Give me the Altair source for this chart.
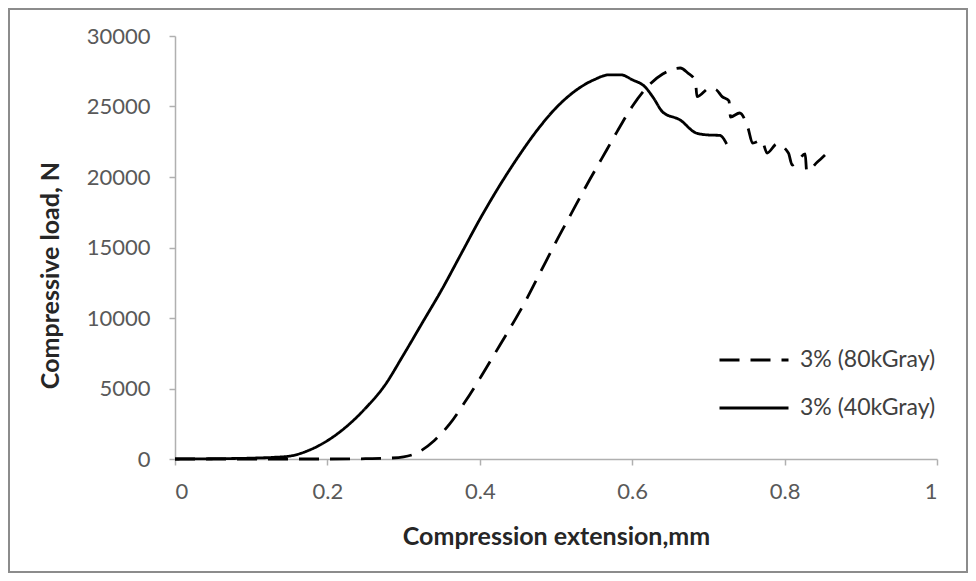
import altair as alt
import pandas as pd

# 3% (40kGray) - solid
x_40 = [0, 0.05, 0.1, 0.13, 0.15, 0.175, 0.2, 0.225, 0.25, 0.275, 0.3, 0.325,
        0.35, 0.375, 0.4, 0.425, 0.45, 0.475, 0.5, 0.525, 0.55, 0.57, 0.585, 0.6,
        0.617, 0.628, 0.64, 0.663, 0.684, 0.7, 0.715, 0.724]
y_40 = [0, 20, 60, 120, 200, 600, 1300, 2300, 3600, 5200, 7400, 9700,
        12000, 14500, 17000, 19300, 21400, 23300, 24900, 26100, 26900, 27250, 27250, 26900,
        26383, 25600, 24610, 24040, 23120, 22980, 22950, 22340]

# 3% (80kGray) - dashed
x_80 = [0, 0.1, 0.2, 0.25, 0.28, 0.3, 0.32, 0.34, 0.36, 0.38, 0.4, 0.42,
        0.44, 0.46, 0.48, 0.5, 0.52, 0.54, 0.56, 0.58, 0.6, 0.62, 0.64, 0.663,
        0.673, 0.683, 0.685, 0.702, 0.71, 0.718, 0.727, 0.729, 0.741, 0.752, 0.758,
        0.77, 0.777, 0.79, 0.805, 0.81, 0.818, 0.827, 0.829, 0.843, 0.853]
y_80 = [0, 0, 0, 20, 60, 150, 500, 1300, 2450, 4000, 5700, 7500,
        9300, 11200, 13300, 15400, 17400, 19400, 21300, 23200, 25000, 26400, 27300, 27730,
        27376, 26800, 25700, 26310, 26200, 25700, 25400, 24250, 24540, 23475, 22400,
        22600, 21700, 22340, 21700, 20850, 21200, 21630, 20420, 21060, 21560]

series_names = ["3% (80kGray)", "3% (40kGray)"]
x_ticks = [0, 0.2, 0.4, 0.6, 0.8, 1]
y_ticks = [0, 5000, 10000, 15000, 20000, 25000, 30000]

rows = []
for i, (a, b) in enumerate(zip(x_80, y_80)):
    rows.append({"x": a, "y": b, "s": series_names[0], "o": i})
for i, (a, b) in enumerate(zip(x_40, y_40)):
    rows.append({"x": a, "y": b, "s": series_names[1], "o": i})
df = pd.DataFrame(rows)

FONT = "Lato"

lines = alt.Chart(df).mark_line(color="black", strokeWidth=2.8, interpolate="monotone").encode(
    x=alt.X("x:Q", scale=alt.Scale(domain=[0, 1], nice=False),
            axis=alt.Axis(values=x_ticks, format="~g", title="Compression extension,mm",
                          labelPadding=16, titleY=77, titleBaseline="middle")),
    y=alt.Y("y:Q", scale=alt.Scale(domain=[0, 30000], nice=False),
            axis=alt.Axis(values=y_ticks, format="d", title="Compressive load, N",
                          labelPadding=19, titleX=-125, titleY=239, titleBaseline="middle")),
    strokeDash=alt.StrokeDash("s:N",
        scale=alt.Scale(domain=series_names, range=[[20, 11], [1, 0]]),
        legend=alt.Legend(title=None, orient="none", legendX=543, legendY=288,
                          symbolType="stroke", symbolSize=4761, symbolStrokeWidth=3,
                          symbolStrokeColor="black", labelFont=FONT, labelFontSize=23,
                          labelColor="#404040", labelOffset=10, rowPadding=-18)),
    order="o:Q",
)

frame = alt.Chart(pd.DataFrame({"a": [0]})).mark_rect(
    fill=None, stroke="#8c8c8c", strokeWidth=2
).encode(
    x=alt.value(-166), x2=alt.value(792), y=alt.value(-27), y2=alt.value(536)
)

chart = alt.layer(frame, lines).properties(
    width=762, height=423,
    autosize=alt.AutoSizeParams(type="none"),
    padding={"left": 167, "top": 28, "right": 31, "bottom": 114},
).configure_view(stroke=None).configure_axis(
    grid=False, domainColor="#b0b0b0", domainWidth=1.5, tickColor="#b0b0b0",
    tickWidth=1.5, tickSize=6, labelFont=FONT, labelFontSize=22, labelColor="#595959",
    titleFont=FONT, titleFontSize=25, titleFontWeight="bold", titleColor="#262626",
)

chart.save("out.html", embed_options={"renderer": "svg", "actions": False})
